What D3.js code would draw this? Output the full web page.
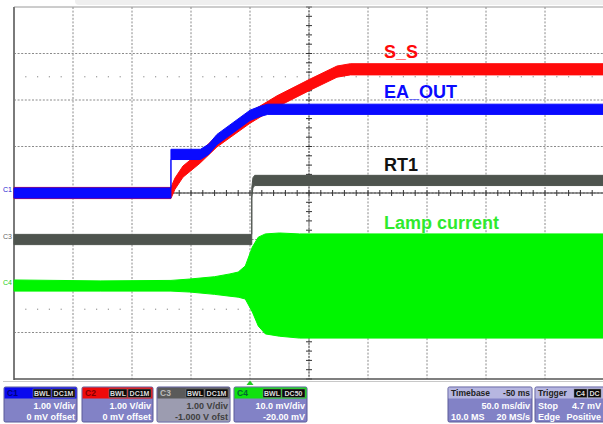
<!DOCTYPE html>
<html><head><meta charset="utf-8">
<script src="https://cdn.jsdelivr.net/npm/d3@7"></script>
<style>
html,body{margin:0;padding:0;background:#fff;overflow:hidden}
svg{display:block;font-family:Arial,"Liberation Sans",sans-serif}
</style></head><body>
<svg id="scope" width="603" height="424"></svg>
<script>
// ---- acquisition: time in ms, readings in each channel's own unit ----
const ssTime  = [-200, -67, -63.6, -56.8, -42.4, -28, 0, 22.9, 50.9, 73.7, 85, 300];
const ssVolts = [0, 0, 0.20, 0.46, 0.76, 1.11, 1.62, 1.97, 2.33, 2.61, 2.66, 2.66];

const eaTime  = [-200, -67, -67, -42, -35, -28, 0, 8, 15, 300];
const eaVolts = [0, 0, 0.83, 0.83, 0.94, 1.15, 1.67, 1.75, 1.80, 1.80];

const rtTime  = [-200, 1.5, 1.5, 2.5, 4, 300];
const rtVolts = [0, 0, 1.0, 1.22, 1.27, 1.27];

const lampTime  = [-200, -127, -67, -51, -30, -17, -10, -4, 2, 7, 13, 25, 42, 300];
const lampUpper = [1.3, 1.1, 1.2, 1.5, 2.0, 2.6, 3.0, 4.3, 8.4, 10.5, 11.2, 11.4, 11.2, 11.2];
const lampLower = [-1.1, -1.1, -1.1, -1.3, -1.8, -2.2, -2.4, -2.8, -5.6, -8.6, -10.3, -10.8, -11.2, -11.2];

// peak-to-peak noise half width of the slow channels (V)
const noiseC1 = 0.11, noiseC2 = 0.12, noiseC3 = 0.11;

// ---- channel settings ----
const channelNames = ["C1", "C2", "C3", "C4"];
const voltsPerDiv  = [1, 1, 1, 10];
const offsets      = [0, 0, -1, -20];
const traceLabels  = ["EA_OUT", "S_S", "RT1", "Lamp current"];
const scaleText    = ["1.00 V/div", "1.00 V/div", "1.00 V/div", "10.0 mV/div"];
const offsetText   = ["0 mV offset", "0 mV offset", "-1.000 V ofst", "-20.00 mV"];
const couplingText = [["BWL", "DC1M"], ["BWL", "DC1M"], ["BWL", "DC1M"], ["BWL", "DC50"]];
const timebaseText = ["Timebase", "-50 ms", "50.0 ms/div", "10.0 MS", "20 MS/s"];
const triggerText  = ["Trigger", "C4", "DC", "Stop", "4.7 mV", "Edge", "Positive"];

const timeDomain = [-200, 300];   // 10 div x 50 ms
const divDomain  = [-4, 4];       // 8 vertical divisions

// ---- layout ----
const svg = d3.select("#scope");
const gridL = 14, gridR = 604, gridT = 7, gridB = 379;

const x = d3.scaleLinear().domain(timeDomain).range([gridL, gridR]);
const yDiv = d3.scaleLinear().domain(divDomain).range([gridB, gridT]);
const chanY = ch => v => yDiv((v + offsets[ch]) / voltsPerDiv[ch]);

const colors = { c1: "#0a0aff", c2: "#ff0a0a", c3: "#4e544e", c4: "#00f500" };

// top strip of the display frame
svg.append("rect").attr("x", 75).attr("y", -4).attr("width", 540).attr("height", 9)
  .attr("rx", 4).attr("fill", "#efefef");

// ---- graticule ----
const grid = svg.append("g");
const vLines = d3.range(timeDomain[0] + 50, timeDomain[1], 50);
grid.selectAll("line.v").data(vLines).join("line")
  .attr("x1", d => x(d)).attr("x2", d => x(d)).attr("y1", gridT).attr("y2", gridB)
  .attr("stroke", "#8a8a8a").attr("stroke-dasharray", "2,1.6").attr("stroke-width", 1);
const hLines = d3.range(divDomain[0] + 1, divDomain[1]);
grid.selectAll("line.h").data(hLines).join("line")
  .attr("x1", gridL).attr("x2", gridR).attr("y1", d => yDiv(d)).attr("y2", d => yDiv(d))
  .attr("stroke", "#8a8a8a").attr("stroke-dasharray", "2,1.6").attr("stroke-width", 1);

// dotted marker rows
const dotTimes = d3.range(timeDomain[0], timeDomain[1], 10).filter(t => (t - timeDomain[0]) % 50 !== 0);
[2.5, -2.5].forEach(dv => {
  grid.selectAll(null).data(dotTimes).join("rect")
    .attr("x", d => x(d) - 0.6).attr("y", yDiv(dv) - 0.6).attr("width", 1.2).attr("height", 1.2)
    .attr("fill", "#999");
});

// center axes with minor ticks
const tMid = (timeDomain[0] + timeDomain[1]) / 2;
grid.append("line").attr("x1", gridL).attr("x2", gridR).attr("y1", yDiv(0)).attr("y2", yDiv(0))
  .attr("stroke", "#333").attr("stroke-width", 1);
grid.selectAll(null).data(d3.range(timeDomain[0], timeDomain[1] + 1, 10)).join("line")
  .attr("x1", d => x(d)).attr("x2", d => x(d)).attr("y1", yDiv(0) - 3).attr("y2", yDiv(0) + 3)
  .attr("stroke", "#333").attr("stroke-width", 1);
grid.append("line").attr("x1", x(tMid)).attr("x2", x(tMid)).attr("y1", gridT).attr("y2", gridB)
  .attr("stroke", "#555").attr("stroke-dasharray", "2,1.2").attr("stroke-width", 1);
grid.selectAll(null).data(d3.range(divDomain[0], divDomain[1] + 0.01, 0.2)).join("line")
  .attr("x1", x(tMid) - 3).attr("x2", x(tMid) + 3).attr("y1", d => yDiv(d)).attr("y2", d => yDiv(d))
  .attr("stroke", "#333").attr("stroke-width", 1);

// frame
svg.append("line").attr("x1", gridL).attr("x2", gridR).attr("y1", gridT).attr("y2", gridT)
  .attr("stroke", "#9a9a9a").attr("stroke-width", 1);
svg.append("line").attr("x1", gridL).attr("x2", gridL).attr("y1", gridT).attr("y2", gridB + 1)
  .attr("stroke", "#7a7a7a").attr("stroke-width", 2);
svg.append("line").attr("x1", gridL).attr("x2", gridR).attr("y1", gridB).attr("y2", gridB)
  .attr("stroke", "#555").attr("stroke-width", 1.5);
svg.append("line").attr("x1", 3).attr("x2", 603).attr("y1", 381.5).attr("y2", 381.5)
  .attr("stroke", "#c8c8c8").attr("stroke-width", 1);

// ---- traces ----
const traces = svg.append("g");
function band(times, values, ch, half, color) {
  const yc = chanY(ch);
  const pts = times.map((t, i) => ({ t, v: values[i] }));
  traces.append("path").datum(pts)
    .attr("d", d3.area().x(d => x(d.t)).y0(d => yc(d.v - half)).y1(d => yc(d.v + half)))
    .attr("fill", color).attr("stroke", color).attr("stroke-width", 1);
}
band(rtTime, rtVolts, 2, noiseC3, colors.c3);

const yc4 = chanY(3);
const lampPts = lampTime.map((t, i) => ({ t, hi: lampUpper[i], lo: lampLower[i] }));
traces.append("path").datum(lampPts)
  .attr("d", d3.area().x(d => x(d.t)).y0(d => yc4(d.lo)).y1(d => yc4(d.hi)))
  .attr("fill", colors.c4).attr("stroke", colors.c4).attr("stroke-width", 1);

band(ssTime, ssVolts, 1, noiseC2, colors.c2);
band(eaTime, eaVolts, 0, noiseC1, colors.c1);

// ---- trace labels ----
const labelX = 384;
const labelRows = [
  { text: traceLabels[1], y: 57.5, fill: "#ff0a0a" },
  { text: traceLabels[0], y: 98, fill: "#0a0aff" },
  { text: traceLabels[2], y: 171, fill: "#111" },
  { text: traceLabels[3], y: 229, fill: "#2eea2e" }
];
svg.selectAll("text.lbl").data(labelRows).join("text")
  .attr("x", labelX).attr("y", d => d.y).text(d => d.text)
  .attr("fill", d => d.fill).attr("font-size", 18).attr("font-weight", "bold");

// ground markers on the left edge
const markerRows = [
  { ch: 0, name: channelNames[0], color: "#2020d0" },
  { ch: 2, name: channelNames[2], color: "#666" },
  { ch: 3, name: channelNames[3], color: "#20d020" }
];
svg.selectAll("text.gm").data(markerRows).join("text")
  .attr("x", 3).attr("y", d => chanY(d.ch)(0) - 1).text(d => d.name)
  .attr("fill", d => d.color).attr("font-size", 7);

// trigger position marker
const trigX = x(0);
svg.append("path")
  .attr("d", `M${trigX},380.5 L${trigX + 3.5},385 L${trigX - 3.5},385 Z`)
  .attr("fill", "#22cc22");

// ---- status boxes ----
const boxY = 387, boxH = 35, headH = 11;
const body = "#8282c6";
function box(bx, bw, headFill, headLabel, headLabelFill) {
  const g = svg.append("g");
  g.append("rect").attr("x", bx).attr("y", boxY).attr("width", bw).attr("height", boxH)
    .attr("fill", body).attr("stroke", "#5a5a98").attr("stroke-width", 1).attr("rx", 1.5);
  g.append("rect").attr("x", bx + 0.5).attr("y", boxY + 0.5).attr("width", bw - 1).attr("height", headH)
    .attr("fill", headFill);
  g.append("text").attr("x", bx + 3).attr("y", boxY + 9).text(headLabel)
    .attr("fill", headLabelFill).attr("font-size", 8.5).attr("font-weight", "bold");
  return g;
}
function tags(g, right, labels) {
  let xr = right;
  labels.slice().reverse().forEach(lbl => {
    const w = lbl.length * 5 + 3;
    g.append("rect").attr("x", xr - w).attr("y", boxY + 2).attr("width", w).attr("height", 8.5)
      .attr("fill", "#0a0a0a").attr("stroke", "#888").attr("stroke-width", 0.5);
    g.append("text").attr("x", xr - w / 2).attr("y", boxY + 9).text(lbl)
      .attr("text-anchor", "middle").attr("fill", "#ddd").attr("font-size", 7).attr("font-weight", "bold");
    xr -= w + 1;
  });
}
function line(g, xx, yy, txt, anchor, fill) {
  g.append("text").attr("x", xx).attr("y", yy).text(txt).attr("text-anchor", anchor)
    .attr("fill", fill).attr("font-size", 9).attr("font-weight", "bold");
}

const chanBoxes = [
  { x: 4, w: 73, head: "#0a0aee", headText: "#00007a", bodyFill: body, txt: "#fff" },
  { x: 82, w: 71, head: "#ee0a0a", headText: "#800000", bodyFill: body, txt: "#fff" },
  { x: 157, w: 73, head: "#5a5a5a", headText: "#bbb", bodyFill: "#9c9cb0", txt: "#404040" },
  { x: 234, w: 73, head: "#10e010", headText: "#063", bodyFill: body, txt: "#fff" }
];
chanBoxes.forEach((b, i) => {
  const g = box(b.x, b.w, b.head, channelNames[i], b.headText);
  if (b.bodyFill !== body) {
    g.insert("rect", ":nth-child(2)").attr("x", b.x + 0.5).attr("y", boxY + headH).attr("width", b.w - 1)
      .attr("height", boxH - headH - 0.5).attr("fill", b.bodyFill);
  }
  tags(g, b.x + b.w - 2, couplingText[i]);
  line(g, b.x + b.w - 2, 409, scaleText[i], "end", b.txt);
  line(g, b.x + b.w - 2, 419.5, offsetText[i], "end", b.txt);
});

// timebase
const tb = box(448, 84, "#b6b6e0", timebaseText[0], "#222");
tb.append("text").attr("x", 530).attr("y", boxY + 9).text(timebaseText[1]).attr("text-anchor", "end")
  .attr("fill", "#222").attr("font-size", 8.5).attr("font-weight", "bold");
line(tb, 530, 409, timebaseText[2], "end", "#fff");
line(tb, 451, 419.5, timebaseText[3], "start", "#fff");
line(tb, 530, 419.5, timebaseText[4], "end", "#fff");

// trigger (box runs past the window edge; its text stays inside)
const tr = box(535, 80, "#b6b6e0", triggerText[0], "#222");
tags(tr, 601, [triggerText[1], triggerText[2]]);
line(tr, 538, 409, triggerText[3], "start", "#fff");
line(tr, 601, 409, triggerText[4], "end", "#fff");
line(tr, 538, 419.5, triggerText[5], "start", "#fff");
line(tr, 601, 419.5, triggerText[6], "end", "#fff");
</script>
</body></html>
